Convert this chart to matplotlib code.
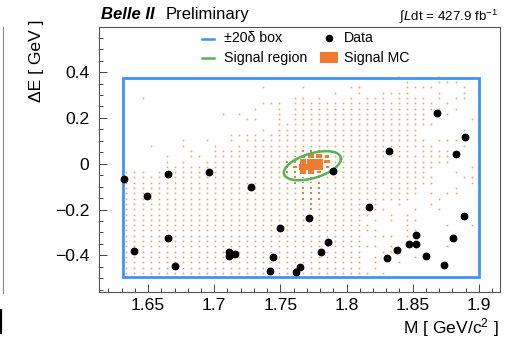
import numpy as np
import matplotlib
matplotlib.use("Agg")
import matplotlib.pyplot as plt
from matplotlib.patches import Rectangle
from matplotlib.lines import Line2D
from matplotlib.collections import PatchCollection
from matplotlib.ticker import MultipleLocator, FuncFormatter

plt.rcParams["font.family"] = ["Liberation Sans", "DejaVu Sans"]
plt.rcParams["mathtext.fontset"] = "custom"
plt.rcParams["mathtext.rm"] = "Liberation Sans"
plt.rcParams["mathtext.it"] = "Liberation Sans:italic"
plt.rcParams["mathtext.bf"] = "Liberation Sans:bold"

# ---------------------------------------------------------------- data
# Candidates in data (M [GeV/c^2], Delta E [GeV])
data_m = [1.6321, 1.6649, 1.6957, 1.6488, 1.7277, 1.7719, 1.7494, 1.6654,
          1.6390, 1.7110, 1.7113, 1.7156, 1.7446, 1.6702, 1.7645, 1.7620,
          1.7418, 1.8684, 1.8896, 1.8828, 1.8323, 1.7895, 1.8172, 1.8886,
          1.8523, 1.8803, 1.7857, 1.8470, 1.8523, 1.8384, 1.7806, 1.8308,
          1.8601, 1.8739]
data_de = [-0.0656, -0.0450, -0.0350, -0.1412, -0.1005, -0.2361, -0.2798,
           -0.3248, -0.3817, -0.3834, -0.4009, -0.3921, -0.4079, -0.4446,
           -0.4503, -0.4721, -0.4664, 0.2230, 0.1150, 0.0424, 0.0555,
           -0.0319, -0.1910, -0.2260, -0.3121, -0.3248, -0.3410, -0.3510,
           -0.3484, -0.3746, -0.3860, -0.4122, -0.4035, -0.4429]

# +-20 delta box
box_m = (1.631, 1.900)
box_de = (-0.494, 0.373)

# Signal region ellipse: centre, half extents and tilt phase
sig_m0, sig_de0 = 1.7742, -0.0087
sig_dm, sig_dde = 0.0216, 0.0634
sig_phase = 0.5

# Signal MC 2D histogram (bin edges and per-bin content levels, top row first)
mc_m_edges = np.linspace(1.6306, 1.9036, 46)
mc_de_top, mc_de_step, mc_de_rows = 0.3911, 0.02313, 38
level_counts = {".": 0, "1": 1, "2": 2, "3": 4, "4": 8, "5": 16,
                "6": 28, "7": 45, "8": 64}
mc_rows = [
    "..... ..... ..... ..... ..... ..... ....1 ....1 .....",
    "..... ..... ..... ..... ..... ..... ..... 1...1 11...",
    "..... ..... ..... ..1.. ..1.. ...11 ..... 1111. ..1..",
    "..... ..... ..... ..... ..... .1..1 ..111 1...1 ..1..",
    "..1.. ..... ..... ..... .11.1 ...1. 111.1 111.1 .11..",
    "..... ..... ..... ..111 .1111 11111 11111 1111. 1....",
    "..... ..... ..... .1..1 .1111 11111 11111 11111 .1...",
    "..... ..... ..1.1 ....1 .1111 11111 11111 111.. 1....",
    "..... ..... ..... 11..1 .1111 11111 11111 111.. ...1.",
    "..... ..... ..... ....1 11111 11111 11111 1111. .....",
    "..... ..... ..... ..1.1 11111 11111 11111 11... ..1..",
    "..... ..... ...11 11.11 11111 11111 11111 11... .....",
    "..... ..1.. 1..1. 11111 11111 11111 11111 111.1 11...",
    "...1. ..1.. .1..1 .1111 11111 11111 11111 1111. ..1..",
    "..... ...1. .1111 11111 11343 21111 11111 1.111 1....",
    "..... 1..11 .1111 11111 13577 51111 11111 11111 1....",
    "..... 1.1.. 11111 11111 24788 61111 11111 11111 1....",
    "..... 11111 11111 11111 25888 41111 11111 1111. ...1.",
    "111.1 11111 11111 11111 24675 31111 11111 111.. .1...",
    "11111 11111 11111 11111 12443 11111 11111 1111. ..11.",
    "11111 11111 11111 11111 12332 11111 11111 1111. ...1.",
    "11111 11111 11111 11111 11232 11111 11.11 11... .1...",
    "11111 11111 11111 11111 11222 11111 11111 11.1. 11...",
    "11111 11111 11111 11111 11222 11111 11111 1...1 .....",
    "11111 11111 11111 11111 11121 11111 .1..1 ...1. .....",
    "11111 11111 11111 11111 11121 11111 .11.. .1..1 .....",
    "11111 11111 11111 11111 11111 11111 1..1. 1.... .....",
    "11111 11111 11111 11111 11111 11111 .1.1. 11... .....",
    "11111 11111 11111 11111 11111 11111 1.... 1.... 1..1.",
    "11111 11111 11111 11111 11111 11111 11... 11... .....",
    "11111 11111 11111 11111 11111 11111 .111. 1.... .....",
    "11111 11111 11111 11111 11111 11111 ..... .1... .....",
    "11111 11111 11111 11111 11111 11111 11.1. ..... 1....",
    "11111 11111 11111 11111 11111 11111 ..11. ..... .....",
    "11111 11111 11111 11111 11111 11111 .1... .1... .....",
    "11111 11111 11111 11111 11111 11111 .1..1 ..... .....",
    "11111 11111 11111 11111 11111 11111 .1... ..... .....",
    "11111 11111 11111 11111 11111 11111 1.1.. ..... .....",
]

x_ticks_major, x_ticks_minor = 0.05, 0.01
y_ticks_major, y_ticks_minor = 0.2, 0.05

# ---------------------------------------------------------------- style
W, H = 521, 338
C_BOX = "#3d94f2"
C_SIG = "#55b455"
C_MC = "#ee7b30"
XLIM = (1.6125, 1.916)
YLIM = (-0.56, 0.597)


def fpos(x, y):
    """Pixel position (from top-left) to figure fraction."""
    return x / W, 1 - y / H


fig = plt.figure(figsize=(W / 100, H / 100), dpi=100)
ax = fig.add_axes([98.5 / W, 1 - 292 / H, (500 - 98.5) / W, (292 - 27) / H])
ax.set_xlim(*XLIM)
ax.set_ylim(*YLIM)

# Signal MC boxes: box area proportional to bin content.
# Bins whose box is below a pixel or so are drawn as pixel-snapped squares.
counts = np.array([[level_counts[c] for c in row.replace(" ", "")]
                   for row in mc_rows], dtype=float)
cmax = counts.max()
bw = np.diff(mc_m_edges)[0]
bh = mc_de_step
m_centres = 0.5 * (mc_m_edges[:-1] + mc_m_edges[1:])
de_centres = mc_de_top - mc_de_step * (np.arange(mc_de_rows) + 0.5)
boxes = []
tiny = {1: ([], []), 2: ([], [])}
for j in range(mc_de_rows):
    for i in range(len(m_centres)):
        c = counts[j, i]
        if c <= 0:
            continue
        xc, yc = m_centres[i], de_centres[j]
        if c < 4:
            tiny[int(c)][0].append(xc)
            tiny[int(c)][1].append(yc)
            continue
        s = np.sqrt(c / cmax)
        w, h = s * bw, s * bh
        boxes.append(Rectangle((xc - w / 2, yc - h / 2), w, h))
ax.add_collection(PatchCollection(boxes, facecolor=C_MC, edgecolor="none",
                                  zorder=2))
ax.plot(tiny[1][0], tiny[1][1], "s", color=C_MC, alpha=0.75, ms=1.2,
        mew=0, zorder=2)
ax.plot(tiny[2][0], tiny[2][1], "s", color=C_MC, ms=1.6, mew=0, zorder=2)

# +-20 delta box
ax.add_patch(Rectangle((box_m[0], box_de[0]), box_m[1] - box_m[0],
                       box_de[1] - box_de[0], fill=False, edgecolor=C_BOX,
                       lw=2.0, zorder=3))

# Signal region ellipse
t = np.linspace(0, 2 * np.pi, 300)
ax.plot(sig_m0 + sig_dm * np.cos(t), sig_de0 + sig_dde * np.sin(t + sig_phase),
        color=C_SIG, lw=1.8, zorder=4)

# Data
ax.plot(data_m, data_de, "o", color="black", ms=4.6, zorder=5)

# Axes styling
for sp in ax.spines.values():
    sp.set_color("#555555")
    sp.set_linewidth(0.8)
ax.xaxis.set_major_locator(MultipleLocator(x_ticks_major))
ax.xaxis.set_minor_locator(MultipleLocator(x_ticks_minor))
ax.yaxis.set_major_locator(MultipleLocator(y_ticks_major))
ax.yaxis.set_minor_locator(MultipleLocator(y_ticks_minor))


def fmt(v, _):
    s = f"{v:.2f}".rstrip("0").rstrip(".")
    if s in ("-0", "0"):
        return "0"
    return s.replace("-", "\u2212")


ax.xaxis.set_major_formatter(FuncFormatter(fmt))
ax.yaxis.set_major_formatter(FuncFormatter(fmt))
ax.tick_params(which="both", direction="in", top=False, right=False,
               color="#444444", width=0.7, labelsize=12.6)
ax.tick_params(which="major", length=5.8)
ax.tick_params(which="minor", length=2.9)
ax.tick_params(axis="x", pad=4.5)
ax.tick_params(axis="y", pad=6.5)

# Axis titles
fig.text(*fpos(499, 333), "M [ GeV/c$^{2}$ ]", ha="right", va="baseline",
         fontsize=12.6)
fig.text(*fpos(37, 20), "\u0394E [ GeV ]", rotation=90, ha="center", va="top",
         fontsize=12.6)

# Header
fig.text(*fpos(101, 19), "Belle II", fontsize=12, fontweight="bold",
         style="italic", va="baseline")
fig.text(*fpos(166, 19), "Preliminary", fontsize=12, va="baseline")
fig.text(*fpos(498, 20), r"$\int\mathit{L}$dt = 427.9 fb$^{-1}$",
         fontsize=9.6, ha="right", va="baseline")

# Legend
leg_fs = 10.2
fig.add_artist(Line2D([fpos(201.5, 0)[0], fpos(213.5, 0)[0]],
                      [fpos(0, 38.5)[1]] * 2, color=C_BOX, lw=1.8))
fig.text(*fpos(224, 38.5), "\u00b120\u03b4 box", fontsize=leg_fs, va="center")
fig.add_artist(Line2D([fpos(329, 38)[0]], [fpos(329, 38)[1]], marker="o",
                      color="black", ms=4.4, ls="none"))
fig.text(*fpos(344, 38.5), "Data", fontsize=leg_fs, va="center")
fig.add_artist(Line2D([fpos(201.5, 0)[0], fpos(213.5, 0)[0]],
                      [fpos(0, 58.3)[1]] * 2, color=C_SIG, lw=1.8))
fig.text(*fpos(224, 58.3), "Signal region", fontsize=leg_fs, va="center")
x0, y0 = fpos(320, 63)
fig.add_artist(Rectangle((x0, y0), 18 / W, 11 / H, transform=fig.transFigure,
                         facecolor=C_MC, edgecolor="none"))
fig.text(*fpos(344, 58.3), "Signal MC", fontsize=leg_fs, va="center")

# Edge of the neighbouring panel
fig.add_artist(Line2D([3 / W] * 2, [1 - 27 / H, 1 - 293 / H], color="#8a8a8a",
                      lw=0.8))
fig.add_artist(Line2D([1 / W] * 2, [1 - 310 / H, 1 - 333 / H], color="black",
                      lw=1.6))

fig.savefig("out.png", dpi=100)
